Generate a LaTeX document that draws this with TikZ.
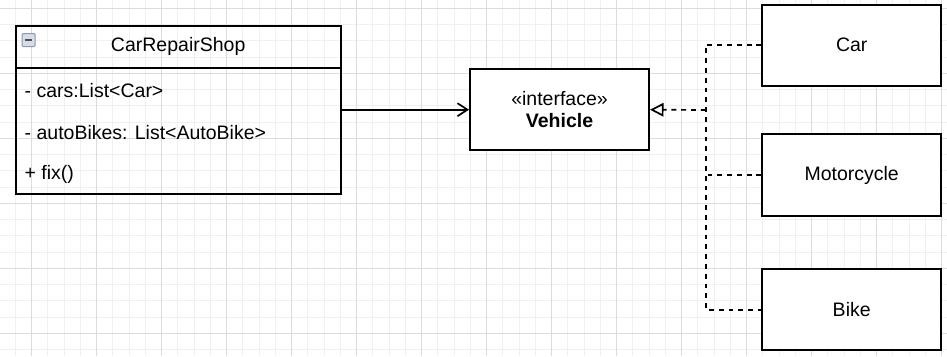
\documentclass[tikz,border=0pt]{standalone}
\usepackage{fontspec}
\setmainfont{Liberation Sans}
\usetikzlibrary{arrows.meta}
\definecolor{minorgrid}{HTML}{F0F0F0}
\definecolor{majorgrid}{HTML}{DCDCDC}
\definecolor{iconfill}{HTML}{D6DDE8}
\definecolor{iconedge}{HTML}{8E99AB}
\definecolor{icondash}{HTML}{4A505A}
\begin{document}
\begin{tikzpicture}[x=1pt,y=-1pt,
  font=\fontsize{19.5}{22}\selectfont,
  minorline/.style={draw=minorgrid,line width=1pt},
  majorline/.style={draw=majorgrid,line width=1.2pt},
  boxstyle/.style={draw=black,line width=2pt,fill=white,rectangle,inner sep=0pt,anchor=center},
  clsstyle/.style={draw=black,line width=2pt,rectangle,inner sep=0pt,minimum width=325pt},
  attrstyle/.style={anchor=west,inner sep=0pt},
  conn/.style={line width=1.7pt},
  realize/.style={line width=1.7pt,dash pattern=on 4.9pt off 4.9pt},
]
\useasboundingbox (0,0) rectangle (947,356);
\fill[white] (0,0) rectangle (947,356);
% grid
\foreach \i in {0,...,57} {
  \pgfmathsetmacro\xx{15.45+16.25*\i}
  \draw[minorline] (\xx,0) -- (\xx,356);
}
\foreach \i in {0,...,21} {
  \pgfmathsetmacro\yy{8.3+16.25*\i}
  \draw[minorline] (0,\yy) -- (947,\yy);
}
\foreach \i in {0,...,14} {
  \pgfmathsetmacro\xx{31.7+65*\i}
  \draw[majorline] (\xx,0) -- (\xx,356);
}
\foreach \i in {0,...,5} {
  \pgfmathsetmacro\yy{8.3+65*\i}
  \draw[majorline] (0,\yy) -- (947,\yy);
}
% CarRepairShop class
\node[clsstyle,minimum height=42pt] (head) at (178.2,46.7) {};
\node (headtxt) at (178.2,46.7) {CarRepairShop};
\node[clsstyle,minimum height=126.3pt] (body) at (178.2,130.85) {};
\node[attrstyle] (a1) at (24.5,90.7) {- cars:List<Car>};
\node[attrstyle] (a2) at (24.5,132.7) {- autoBikes: List<AutoBike>};
\node[attrstyle] (a3) at (24.5,174) {+ fix()};
% collapse icon
\draw[fill=iconfill,draw=iconedge,line width=1pt,rounded corners=1.2pt] (22,33.5) rectangle (35,46.5);
\draw[icondash,line width=2pt] (24.9,40.2) -- (32.1,40.2);
% Vehicle interface
\node[boxstyle,minimum width=179pt,minimum height=80.7pt,align=center] (veh) at (559.5,109.7) {«interface»\\\textbf{Vehicle}};
% implementing classes
\node[boxstyle,minimum width=178.7pt,minimum height=81pt] (car) at (851.7,45.2) {Car};
\node[boxstyle,minimum width=178.7pt,minimum height=81.3pt] (moto) at (851.7,175) {Motorcycle};
\node[boxstyle,minimum width=178.7pt,minimum height=80.7pt] (bike) at (851.7,309.7) {Bike};
% connectors
\draw[conn,-{Straight Barb[length=10pt,width=13pt,line width=1.7pt]}] (body.east |- veh.west) -- (veh.west);
\coordinate (j) at (705.7,110);
\draw[realize,-{Triangle[open,length=13.5pt,width=13.5pt,fill=white,line width=1.7pt]}] (j) -- (veh.east);
\draw[realize] (car.west) -- (car.west -| j) -- (bike.west -| j) -- (bike.west);
\draw[realize] (moto.west) -- ([xshift=2pt]moto.west -| j);
\end{tikzpicture}
\end{document}
